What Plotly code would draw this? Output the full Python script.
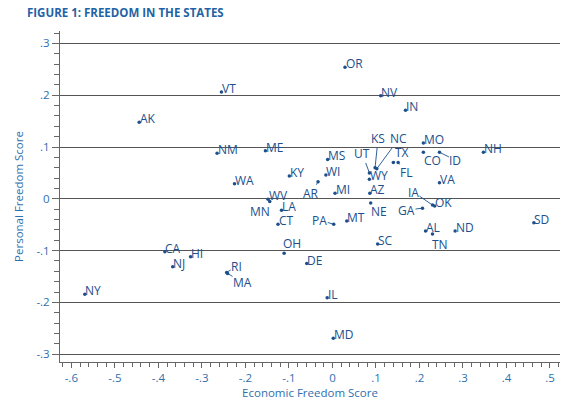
import plotly.graph_objects as go

# ---- data ----
states = ["OR", "NV", "IN", "VT", "AK", "NM", "ME", "KY", "WA", "WV",
          "MN", "LA", "CT", "MS", "WI", "AR", "MI", "AZ", "NE", "PA",
          "MT", "OH", "DE", "SC", "UT", "WY", "KS", "NC", "TX", "FL",
          "MO", "CO", "ID", "NH", "VA", "IA", "OK", "GA", "AL", "TN",
          "ND", "SD", "CA", "HI", "NJ", "RI", "MA", "NY", "IL", "MD"]
economic = [0.029, 0.111, 0.168, -0.255, -0.444, -0.265, -0.154, -0.099, -0.225, -0.148,
            -0.144, -0.117, -0.125, -0.011, -0.015, -0.033, 0.006, 0.086, 0.088, 0.003,
            0.033, -0.111, -0.059, 0.104, 0.085, 0.085, 0.098, 0.102, 0.140, 0.151,
            0.209, 0.209, 0.246, 0.347, 0.246, 0.230, 0.235, 0.207, 0.214, 0.230,
            0.282, 0.463, -0.385, -0.326, -0.367, -0.243, -0.241, -0.569, -0.012, 0.002]
personal = [0.254, 0.199, 0.171, 0.206, 0.148, 0.088, 0.093, 0.044, 0.029, -0.001,
            -0.005, -0.022, -0.049, 0.076, 0.046, 0.033, 0.011, 0.011, -0.008, -0.049,
            -0.043, -0.105, -0.125, -0.087, 0.050, 0.038, 0.060, 0.058, 0.070, 0.070,
            0.108, 0.090, 0.090, 0.090, 0.031, -0.012, -0.014, -0.018, -0.062, -0.068,
            -0.062, -0.046, -0.102, -0.112, -0.131, -0.142, -0.144, -0.184, -0.191, -0.269]

x_tickvals = [-0.6, -0.5, -0.4, -0.3, -0.2, -0.1, 0, 0.1, 0.2, 0.3, 0.4, 0.5]
x_ticktext = ["-.6", "-.5", "-.4", "-.3", "-.2", "-.1", "0", ".1", ".2", ".3", ".4", ".5"]
y_tickvals = [-0.3, -0.2, -0.1, 0, 0.1, 0.2, 0.3]
y_ticktext = ["-.3", "-.2", "-.1", "0", ".1", ".2", ".3"]

# ---- label styling: leader-line offsets in pixels (text centre relative to point) ----
leader_offsets = {
    "UT": (-7, -19), "KS": (3, -29), "NC": (22, -30), "TX": (9, -10), "FL": (8, 10),
    "CO": (9, 8), "ID": (16, 8), "AR": (-7, 12), "NE": (8, 9), "IA": (-19, -13),
    "GA": (-16, 2), "PA": (-14, -4), "TN": (7, 10), "MN": (-10, 10), "OH": (8, -10),
    "RI": (10, -6), "MA": (15, 9),
}

NAVY = "#1c4f8c"
BLUE = "#2f6fae"
FONT = "Open Sans"
LABEL_SIZE = 12

fig = go.Figure()
fig.add_trace(go.Scatter(
    x=economic, y=personal, mode="markers",
    marker=dict(size=3.5, color=NAVY),
    hoverinfo="text", text=states, showlegend=False,
))

annotations = []
for s, xv, yv in zip(states, economic, personal):
    if s in leader_offsets:
        ax, ay = leader_offsets[s]
        annotations.append(dict(
            x=xv, y=yv, xref="x", yref="y", text=s, showarrow=True,
            ax=ax, ay=ay, arrowhead=0, arrowwidth=0.9, arrowcolor=NAVY,
            standoff=0, startstandoff=0, borderpad=0,
            font=dict(family=FONT, size=LABEL_SIZE, color=NAVY),
        ))
    else:
        annotations.append(dict(
            x=xv, y=yv, xref="x", yref="y", text=s, showarrow=False,
            xanchor="left", yanchor="middle", xshift=-0.5, yshift=3.5, borderpad=0,
            font=dict(family=FONT, size=LABEL_SIZE, color=NAVY),
        ))

annotations.append(dict(
    text="<b>FIGURE 1: FREEDOM IN THE STATES</b>", xref="paper", yref="paper",
    x=-0.07, y=1.0, xanchor="left", yanchor="bottom", yshift=9, showarrow=False,
    font=dict(family=FONT, size=11.5, color="#1f63a6"),
))

fig.update_layout(
    width=585, height=408,
    margin=dict(l=60, r=25, t=31, b=46),
    paper_bgcolor="white", plot_bgcolor="white",
    font=dict(family=FONT, size=11.5, color=BLUE),
    annotations=annotations,
    xaxis=dict(
        range=[-0.626, 0.523], tickvals=x_tickvals, ticktext=x_ticktext,
        showgrid=False, zeroline=False, showline=True, linecolor="#666666", linewidth=1,
        ticks="outside", ticklen=5, tickcolor="#666666", tickwidth=1,
        minor=dict(dtick=0.02, ticks="outside", ticklen=4, tickcolor="#666666", tickwidth=1, showgrid=False),
        tickfont=dict(family=FONT, size=11.5, color=BLUE),
        title=dict(text="Economic Freedom Score", font=dict(family=FONT, size=11.5, color=BLUE), standoff=4),
    ),
    yaxis=dict(
        range=[-0.315, 0.324], tickvals=y_tickvals, ticktext=y_ticktext,
        showgrid=True, gridcolor="#555555", gridwidth=1.2, zeroline=False,
        showline=True, linecolor="#666666", linewidth=1,
        ticks="outside", ticklen=7, tickcolor="#666666", tickwidth=1,
        minor=dict(dtick=0.02, ticks="outside", ticklen=5, tickcolor="#666666", tickwidth=1, showgrid=False),
        tickfont=dict(family=FONT, size=11.5, color=BLUE),
        title=dict(text="Personal Freedom Score", font=dict(family=FONT, size=11.5, color=BLUE), standoff=10),
    ),
)

fig.write_html("out.html")
